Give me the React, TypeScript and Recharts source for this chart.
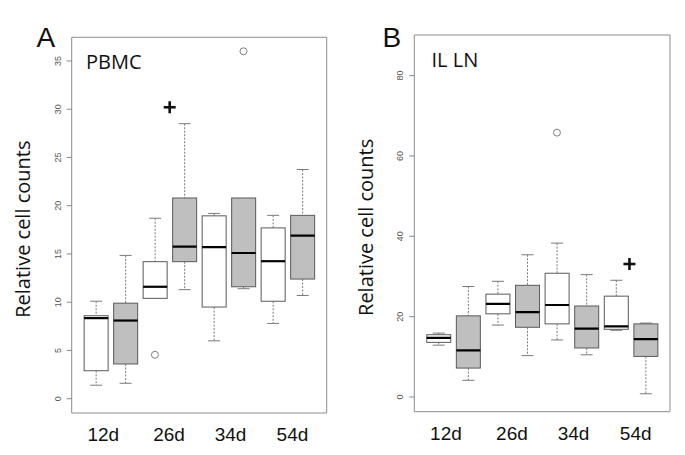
import React from "react";
import {
  ComposedChart,
  Bar,
  Scatter,
  XAxis,
  YAxis,
  ReferenceArea,
} from "recharts";

// box order: 12d ctrl, 12d trt, 26d ctrl, 26d trt, 34d ctrl, 34d trt, 54d ctrl, 54d trt
const boxIds = ["1", "2", "3", "4", "5", "6", "7", "8"];
const boxKind = ["ctrl", "trt", "ctrl", "trt", "ctrl", "trt", "ctrl", "trt"];
const groupLabels = ["12d", "26d", "34d", "54d"];
const groupLabelPos = [1.25, 3.48, 5.56, 7.66];

// A: PBMC
const pbmcLow = [1.4, 1.6, 10.4, 11.3, 6.0, 11.4, 7.8, 10.7];
const pbmcQ1 = [2.9, 3.6, 10.4, 14.2, 9.5, 11.6, 10.1, 12.4];
const pbmcMed = [8.35, 8.1, 11.6, 15.75, 15.7, 15.1, 14.25, 16.9];
const pbmcQ3 = [8.6, 9.9, 14.2, 20.8, 18.95, 20.8, 17.7, 19.0];
const pbmcHigh = [10.1, 14.85, 18.7, 28.5, 19.2, 20.8, 19.0, 23.75];
const pbmcOutX = [3, 6];
const pbmcOutY = [4.55, 36.0];
const pbmcMarkX = [3.5];
const pbmcMarkY = [30.2];
const pbmcTicks = [0, 5, 10, 15, 20, 25, 30, 35];
const pbmcDomain = [-1.48, 37.45];

// B: IL LN
const lnLow = [12.9, 4.15, 17.9, 10.3, 14.2, 10.5, 16.6, 0.8];
const lnQ1 = [13.6, 7.2, 20.7, 17.35, 18.2, 12.2, 16.85, 10.1];
const lnMed = [14.7, 11.6, 23.2, 21.1, 22.9, 17.0, 17.6, 14.4];
const lnQ3 = [15.5, 20.2, 25.6, 27.8, 30.8, 22.65, 25.1, 18.2];
const lnHigh = [15.9, 27.5, 28.8, 35.4, 38.3, 30.45, 29.05, 18.4];
const lnOutX = [5];
const lnOutY = [65.8];
const lnMarkX = [7.45];
const lnMarkY = [33.1];
const lnTicks = [0, 20, 40, 60, 80];
const lnDomain = [-3.66, 90.1];

const xDomain = [0.18, 8.82];

const buildRows = (lo: number[], q1: number[], med: number[], q3: number[], hi: number[]) =>
  boxIds.map((id, i) => ({
    id,
    kind: boxKind[i],
    lo: lo[i],
    q1: q1[i],
    med: med[i],
    q3: q3[i],
    hi: hi[i],
    range: [q1[i], q3[i]],
  }));

const buildPoints = (xs: number[], ys: number[]) => xs.map((x, i) => ({ x, y: ys[i] }));

const pbmcRows = buildRows(pbmcLow, pbmcQ1, pbmcMed, pbmcQ3, pbmcHigh);
const lnRows = buildRows(lnLow, lnQ1, lnMed, lnQ3, lnHigh);

const GREY = "#bfbfbf";
const WHISK = "#7a7a7a";
const SANS = "'Liberation Sans', Arial, sans-serif";
const TITLE_FONT = "'Open Sans', 'Noto Sans', sans-serif";

const BoxShape = (props: any) => {
  const { x, y, width, height, payload } = props;
  if (!payload) return null;
  const top = Math.min(y, y + height);
  const h = Math.abs(height);
  const k = h / (payload.q3 - payload.q1);
  const py = (v: number) => top + (payload.q3 - v) * k;
  const cx = x + width / 2;
  const cap = width / 4;
  const fill = payload.kind === "trt" ? GREY : "#ffffff";
  return (
    <g>
      {payload.hi > payload.q3 && (
        <g>
          <line x1={cx} x2={cx} y1={py(payload.hi)} y2={top} stroke={WHISK} strokeDasharray="2 1.5" />
          <line x1={cx - cap} x2={cx + cap} y1={py(payload.hi)} y2={py(payload.hi)} stroke={WHISK} />
        </g>
      )}
      {payload.lo < payload.q1 && (
        <g>
          <line x1={cx} x2={cx} y1={top + h} y2={py(payload.lo)} stroke={WHISK} strokeDasharray="2 1.5" />
          <line x1={cx - cap} x2={cx + cap} y1={py(payload.lo)} y2={py(payload.lo)} stroke={WHISK} />
        </g>
      )}
      <rect x={x} y={top} width={width} height={h} fill={fill} stroke="#5a5a5a" strokeWidth={1} />
      <line x1={x} x2={x + width} y1={py(payload.med)} y2={py(payload.med)} stroke="#000" strokeWidth={2.2} />
    </g>
  );
};

const OutlierShape = (props: any) => {
  const { cx, cy } = props;
  return <circle cx={cx} cy={cy} r={3.5} fill="none" stroke="#808080" strokeWidth={1} />;
};

const PlusShape = (props: any) => {
  const { cx, cy } = props;
  return (
    <g>
      <rect x={cx - 6} y={cy - 1.3} width={12} height={2.6} fill="#111" />
      <rect x={cx - 1.3} y={cy - 6} width={2.6} height={12} fill="#111" />
    </g>
  );
};

const YTick = (props: any) => {
  const { x, y, payload } = props;
  return (
    <text
      transform={`translate(${x - 4},${y}) rotate(-90)`}
      textAnchor="middle"
      fontSize={9}
      fill="#555"
      fontFamily={SANS}
    >
      {payload.value}
    </text>
  );
};

const GroupTick = (props: any) => {
  const { x, y, payload } = props;
  const idx = groupLabelPos.indexOf(payload.value);
  return (
    <text x={x} y={y} dy={24} textAnchor="middle" fontSize={19} fill="#111" fontFamily={SANS}>
      {groupLabels[idx]}
    </text>
  );
};

const yTitle = (p: any) => {
  const vb = p.viewBox || {};
  const tx = vb.x + 18.5;
  const ty = vb.y + vb.height / 2 + 4;
  return (
    <text
      x={tx}
      y={ty}
      transform={`rotate(-90 ${tx} ${ty})`}
      textAnchor="middle"
      fontSize={20}
      fill="#111"
      fontFamily={TITLE_FONT}
    >
      Relative cell counts
    </text>
  );
};

const BoxPanel = ({
  rows,
  outliers,
  marks,
  ticks,
  domain,
  margin,
  width,
}: {
  rows: any[];
  outliers: { x: number; y: number }[];
  marks: { x: number; y: number }[];
  ticks: number[];
  domain: number[];
  margin: { top: number; right: number; bottom: number; left: number };
  width: number;
}) => (
  <ComposedChart width={width} height={455} data={rows} margin={margin} barCategoryGap="10%">
    <XAxis
      xAxisId="cat"
      dataKey="id"
      type="category"
      padding={{ left: 9.5, right: 9.5 }}
      height={4}
      axisLine={false}
      tick={false}
      tickSize={3}
      tickLine={{ stroke: "#aaa" }}
    />
    <XAxis
      xAxisId="num"
      dataKey="x"
      type="number"
      domain={xDomain}
      allowDataOverflow
      ticks={groupLabelPos}
      interval={0}
      height={margin.bottom === 0 ? 38 : 38}
      axisLine={false}
      tickLine={false}
      tickSize={0}
      tickMargin={0}
      tick={<GroupTick />}
    />
    <YAxis
      type="number"
      domain={domain}
      allowDataOverflow
      ticks={ticks}
      interval={0}
      width={60}
      axisLine={false}
      tickSize={5}
      tickMargin={2}
      tickLine={{ stroke: "#888" }}
      tick={<YTick />}
      label={yTitle}
    />
    <ReferenceArea
      xAxisId="num"
      x1={xDomain[0]}
      x2={xDomain[1]}
      y1={domain[0]}
      y2={domain[1]}
      fill="none"
      stroke="#8c8c8c"
      strokeWidth={1}
      ifOverflow="visible"
    />
    <Bar xAxisId="cat" dataKey="range" shape={<BoxShape />} isAnimationActive={false} />
    <Scatter xAxisId="num" data={outliers} dataKey="y" shape={<OutlierShape />} isAnimationActive={false} />
    <Scatter xAxisId="num" data={marks} dataKey="y" shape={<PlusShape />} isAnimationActive={false} />
  </ComposedChart>
);

export default function App() {
  return (
    <div
      style={{
        position: "absolute",
        left: 0,
        top: 0,
        width: 685,
        height: 455,
        background: "#fff",
        overflow: "hidden",
      }}
    >
      <div style={{ position: "absolute", left: 0, top: 0 }}>
        <BoxPanel
          rows={pbmcRows}
          outliers={buildPoints(pbmcOutX, pbmcOutY)}
          marks={buildPoints(pbmcMarkX, pbmcMarkY)}
          ticks={pbmcTicks}
          domain={pbmcDomain}
          width={345}
          margin={{ top: 37.3, right: 18.3, bottom: 0, left: 11.7 }}
        />
      </div>
      <div style={{ position: "absolute", left: 345, top: 0 }}>
        <BoxPanel
          rows={lnRows}
          outliers={buildPoints(lnOutX, lnOutY)}
          marks={buildPoints(lnMarkX, lnMarkY)}
          ticks={lnTicks}
          domain={lnDomain}
          width={340}
          margin={{ top: 35, right: 15, bottom: 1.3, left: 9.3 }}
        />
      </div>
      <svg
        width={685}
        height={455}
        style={{ position: "absolute", left: 0, top: 0, pointerEvents: "none" }}
      >
        <text x={36.5} y={46.7} fontSize={28} fontFamily={SANS} fill="#111">A</text>
        <text x={382.5} y={46.7} fontSize={28} fontFamily={SANS} fill="#111">B</text>
        <text x={86} y={69.3} fontSize={20} fontFamily={TITLE_FONT} fill="#111">PBMC</text>
        <text x={431.5} y={66.7} fontSize={20} fontFamily={TITLE_FONT} fill="#111">IL LN</text>
      </svg>
    </div>
  );
}
